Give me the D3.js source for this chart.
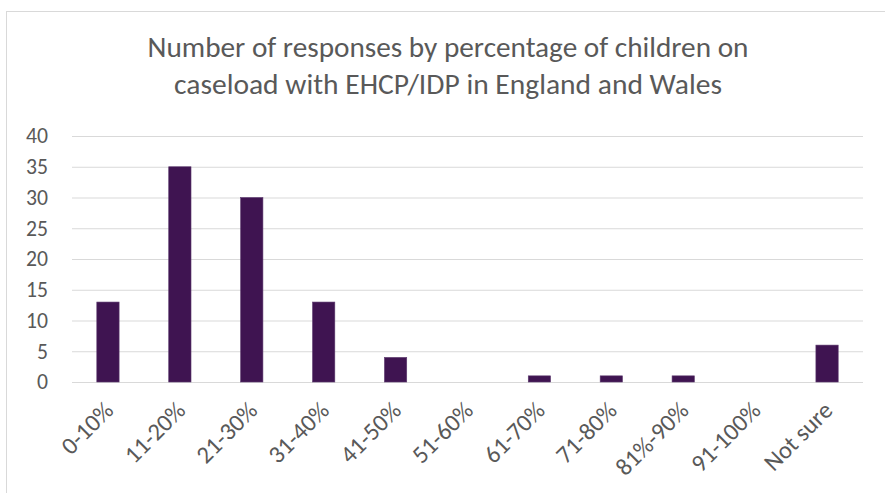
<!DOCTYPE html>
<html><head><meta charset="utf-8">
<script src="https://cdn.jsdelivr.net/npm/d3@7"></script>
<style>body{margin:0;background:#fff}svg{display:block}text{font-family:Carlito,Lato,"Open Sans",sans-serif}</style>
</head><body>
<script>
const categories = ["0-10%","11-20%","21-30%","31-40%","41-50%","51-60%","61-70%","71-80%","81%-90%","91-100%","Not sure"];
const values = [13,35,30,13,4,0,1,1,1,0,6];
const yTicks = [0,5,10,15,20,25,30,35,40];
const titleLines = ["Number of responses by percentage of children on","caseload with EHCP/IDP in England and Wales"];

const W=885,H=493;
const FONT="Carlito,Lato,sans-serif";
const svg=d3.select("body").append("svg").attr("width",W).attr("height",H);
svg.append("rect").attr("x",6.5).attr("y",11.5).attr("width",W).attr("height",H).attr("fill","#fff").attr("stroke","#d9d9d9");

const x=d3.scaleBand().domain(categories).range([72,863]).paddingInner(0.69).paddingOuter(0.345);
const y=d3.scaleLinear().domain([0,40]).range([382,136]);

const t=svg.append("g").attr("text-anchor","middle").attr("fill","#595959").attr("font-size",28).attr("font-weight",300);
const targets=[601,548];
titleLines.forEach((s,i)=>{
  const tx=t.append("text").attr("x",448).attr("y",57+i*37).text(s);
  const w=tx.node().getComputedTextLength();
  tx.attr("font-size",28*targets[i]/w);
});

const ga=svg.append("g").attr("transform","translate(72,0)")
 .call(d3.axisLeft(y).tickValues(yTicks).tickSize(-(863-72)).tickPadding(24));
ga.select(".domain").remove();
ga.selectAll(".tick line").attr("stroke","#d9d9d9").attr("stroke-width",1);
const yt=ga.selectAll(".tick text").attr("fill","#595959").attr("font-size",20).attr("font-family",FONT);
const w40=yt.filter(d=>d===40).node().getComputedTextLength();
yt.attr("font-size",20*22/w40);

svg.append("g").selectAll("rect").data(values).join("rect")
 .attr("x",(d,i)=>x(categories[i])).attr("width",x.bandwidth())
 .attr("y",d=>y(d)).attr("height",d=>y(0)-y(d))
 .attr("fill","#3f1451").attr("stroke","#5d3a6e").attr("stroke-width",0.6);

const gx=svg.append("g").attr("transform","translate(0,382)")
 .call(d3.axisBottom(x).tickSize(0).tickPadding(0));
gx.select(".domain").remove();
const xt=gx.selectAll(".tick text").attr("fill","#595959").attr("font-size",20).attr("font-family",FONT)
 .attr("text-anchor","end").attr("dy",null).attr("y",0);
const wl=xt.filter(d=>d==="81%-90%").node().getComputedTextLength();
xt.attr("font-size",20*92/wl).attr("transform","translate(7,30) rotate(-45)");
</script>
</body></html>
